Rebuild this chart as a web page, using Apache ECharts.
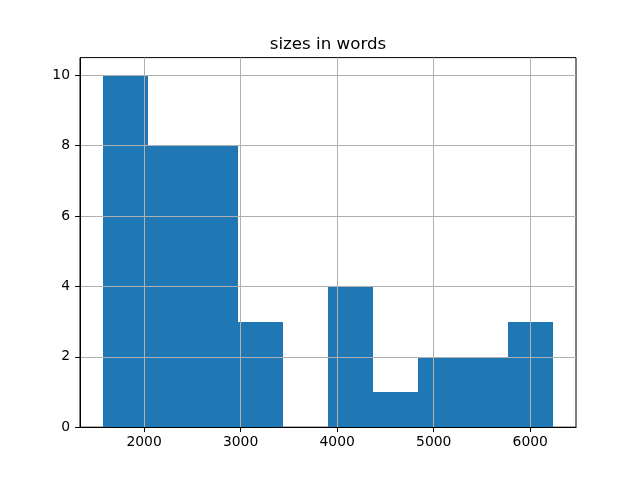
<!DOCTYPE html>
<html>
<head>
<meta charset="utf-8">
<script src="https://cdn.jsdelivr.net/npm/echarts@6/dist/echarts.min.js"></script>
<style>html,body{margin:0;padding:0;background:#fff}#c{width:640px;height:480px}</style>
</head>
<body>
<div id="c"></div>
<script>
// Histogram bin edges (words) and counts
const binEdges = [1570, 2037, 2504, 2971, 3438, 3905, 4372, 4839, 5306, 5773, 6240];
const counts = [10, 8, 8, 3, 0, 4, 1, 2, 2, 3];
const xTicks = [2000, 3000, 4000, 5000, 6000];
const yTicks = [0, 2, 4, 6, 8, 10];
const titleText = 'sizes in words';

const data = counts.map((c, i) => [binEdges[i], binEdges[i + 1], c]);
const span = binEdges[binEdges.length - 1] - binEdges[0];
const xMin = binEdges[0] - span * 0.05;
const xMax = binEdges[binEdges.length - 1] + span * 0.05;
const yMax = Math.max(...counts) * 1.05;

const FONT = 'DejaVu Sans';
const chart = echarts.init(document.getElementById('c'), null, {renderer: 'canvas'});
chart.setOption({
  animation: false,
  backgroundColor: '#fff',
  title: {
    text: titleText,
    left: 328,
    top: 36,
    padding: 0,
    textAlign: 'center',
    textStyle: {fontFamily: FONT, fontSize: 16.7, fontWeight: 'normal', color: '#000'}
  },
  grid: {
    left: 80, top: 57.6, width: 496, height: 369.6,
    show: true, borderColor: '#000', borderWidth: 1, backgroundColor: 'transparent'
  },
  xAxis: {
    type: 'value', min: xMin, max: xMax, z: 10,
    axisLine: {show: true, onZero: false, lineStyle: {color: '#000', width: 1}},
    axisTick: {show: true, length: 4.9, customValues: xTicks, lineStyle: {color: '#000', width: 1}},
    axisLabel: {show: true, customValues: xTicks, margin: 8, fontFamily: FONT, fontSize: 13.9, color: '#000',
      formatter: v => String(Math.round(v))},
    splitLine: {show: true, lineStyle: {color: '#b0b0b0', width: 1}}
  },
  yAxis: {
    type: 'value', min: 0, max: yMax, z: 10,
    axisLine: {show: true, lineStyle: {color: '#000', width: 1}},
    axisTick: {show: true, length: 4.9, customValues: yTicks, lineStyle: {color: '#000', width: 1}},
    axisLabel: {show: true, customValues: yTicks, margin: 10, fontFamily: FONT, fontSize: 13.9, color: '#000',
      formatter: v => String(Math.round(v))},
    splitLine: {show: true, lineStyle: {color: '#b0b0b0', width: 1}}
  },
  series: [{
    type: 'custom',
    z: 2,
    encode: {x: [0, 1], y: 2},
    data: data,
    renderItem: function (params, api) {
      const c = api.value(2);
      if (!c) return null;
      const p0 = api.coord([api.value(0), c]);
      const p1 = api.coord([api.value(1), 0]);
      const x0 = Math.round(p0[0]), x1 = Math.round(p1[0]);
      const y0 = Math.round(p0[1]), y1 = p1[1];
      return {
        type: 'rect',
        shape: {x: x0, y: y0, width: x1 - x0, height: y1 - y0},
        style: {fill: '#1f77b4'}
      };
    }
  }]
});
</script>
</body>
</html>
